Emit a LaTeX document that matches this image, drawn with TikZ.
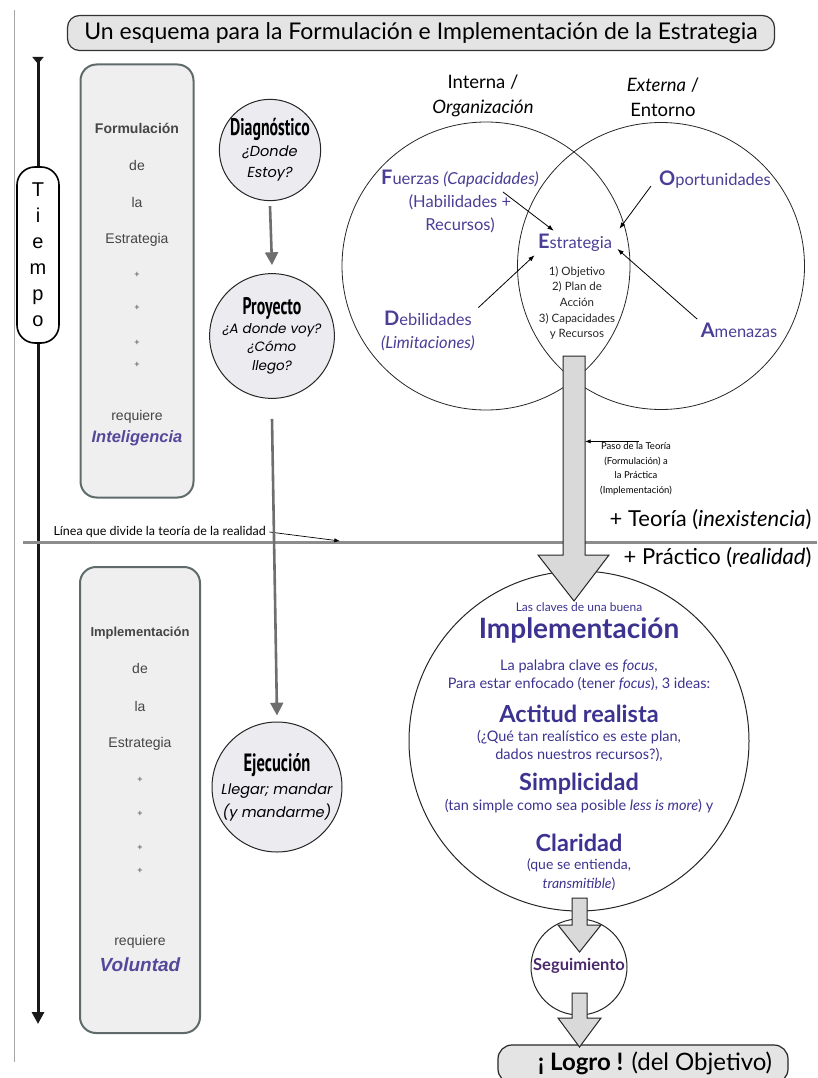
\documentclass[tikz,border=0pt]{standalone}
\usepackage{fontspec}
\setmainfont{Lato}
\newfontfamily\arialfont{Liberation Sans}
\newfontfamily\futfont{Poppins}
\newfontfamily\condfont[FakeStretch=0.66]{PT Sans}
\usepackage{xcolor}
\usetikzlibrary{arrows.meta,positioning,shapes.geometric,calc}
\definecolor{titlefill}{HTML}{E4E4E4}
\definecolor{boxfill}{HTML}{EFEFEF}
\definecolor{boxline}{HTML}{5F6B6B}
\definecolor{boxtext}{HTML}{454545}
\definecolor{stagefill}{HTML}{EBEBF0}
\definecolor{swotpurple}{HTML}{4A3E96}
\definecolor{implpurple}{HTML}{3C3390}
\definecolor{segpurple}{HTML}{4B2A6B}
\definecolor{reqpurple}{HTML}{55489A}
\definecolor{flowgray}{HTML}{6E6E6E}
\definecolor{blockfill}{HTML}{D9D9D9}

\begin{document}
\begin{tikzpicture}[x=1pt,y=-1pt,
  title/.style={rectangle,draw=black!80,line width=1.2pt,rounded corners=12pt,fill=titlefill,minimum width=707pt,minimum height=35pt,font=\fontsize{23}{26}\selectfont},
  phase/.style={rectangle,draw=boxline,line width=2pt,rounded corners=16pt,fill=boxfill},
  boxtxt/.style={font=\arialfont\fontsize{14}{16}\selectfont,text=boxtext},
  plus/.style={font=\arialfont\fontsize{9}{10}\selectfont,text=boxtext},
  stage/.style={circle,draw=black!85,line width=1pt,fill=stagefill,align=center,inner sep=0pt},
  venn/.style={circle,draw=black!85,line width=0.8pt,inner sep=0pt},
  swot/.style={font=\fontsize{16.5}{23}\selectfont,text=swotpurple,align=center},
  impl/.style={text=implpurple,font=\fontsize{14.5}{18}\selectfont},
  implhead/.style={text=implpurple,font=\bfseries\fontsize{23.5}{25}\selectfont},
  edge/.style={-{Latex[length=2.2mm]},line width=0.8pt},
  flow/.style={-{Triangle[length=4.5mm,width=4.5mm]},line width=2.6pt,draw=flowgray},
  block/.style={fill=blockfill,draw=black!85,line width=1pt,line join=miter}]
\useasboundingbox (0,0) rectangle (817,1078);
\draw[gray!70,line width=0.6pt] (14,10) -- (14,1062);

\node[title] (title) at (421,33) {Un esquema para la Formulación e Implementación de la Estrategia};

% eje del tiempo
\coordinate (tstart) at (38,57);
\coordinate (tend) at (38,1024);
\draw[line width=3pt,black!90,{Triangle[reversed,length=7pt,width=11pt]}-{Triangle[length=12pt,width=12pt]}] (tstart) -- (tend);
\node[rectangle,draw=black,line width=1.6pt,rounded corners=18pt,fill=white,minimum width=42pt,minimum height=176pt,align=center,
  font=\arialfont\fontsize{20}{26}\selectfont] (tiempo) at (38,255) {T\\i\\e\\m\\p\\o};

% columnas de la izquierda
\node[phase,minimum width=113pt,minimum height=433pt] (formbox) at (137,281) {};
\node[boxtxt,font=\arialfont\bfseries\fontsize{14}{16}\selectfont] (fhead) at (137,128) {Formulación};
\node[boxtxt] (fde) at (137,165) {de};
\node[boxtxt] (fla) at (137,202) {la};
\node[boxtxt] (fest) at (137,240) {Estrategia};
\foreach \y [count=\i] in {275,308,343,365}
  \node[plus] (fplus\i) at (137,\y) {+};
\node[boxtxt] (freq) at (137,417) {requiere};
\node[boxtxt,text=reqpurple,font=\arialfont\bfseries\itshape\fontsize{16.5}{18}\selectfont] (fint) at (137,438) {Inteligencia};

\node[phase,minimum width=120pt,minimum height=466pt] (implbox) at (140,800) {};
\node[boxtxt,font=\arialfont\bfseries\fontsize{13}{15}\selectfont] (ihead) at (140,633) {Implementación};
\node[boxtxt] (ide) at (140,668) {de};
\node[boxtxt] (ila) at (140,706) {la};
\node[boxtxt] (iest) at (140,744) {Estrategia};
\foreach \y [count=\i] in {780,814,848,871}
  \node[plus] (iplus\i) at (140,\y) {+};
\node[boxtxt] (ireq) at (140,942) {requiere};
\node[boxtxt,text=reqpurple,font=\arialfont\bfseries\itshape\fontsize{19}{21}\selectfont] (ivol) at (140,965) {Voluntad};

% linea teoria / realidad
\coordinate (divL) at (23,542);
\coordinate (divR) at (817,542);
\draw[line width=3pt,gray!90] (divL) -- (divR);
\node[anchor=west,font=\fontsize{12.5}{14}\selectfont] (linea) at (50,532) {Línea que divide la teoría de la realidad};
\coordinate (divpoint) at (340,541);
\draw[-{Latex[length=2mm]},line width=0.7pt] (linea.east) -- (divpoint);

% etapas
\node[stage,minimum size=100pt,font=\futfont\itshape\fontsize{14.5}{21}\selectfont] (diag) at (270,150)
  {\condfont\bfseries\upshape\fontsize{24}{25}\selectfont Diagnóstico\\¿Donde\\Estoy?};
\node[stage,minimum size=106pt,font=\futfont\itshape\fontsize{13.5}{18.5}\selectfont] (proy) at (272,336)
  {\condfont\bfseries\upshape\fontsize{24}{26}\selectfont Proyecto\\¿A donde voy?\\¿Cómo\\llego?};
\node[stage,minimum size=130pt,font=\futfont\itshape\fontsize{14.5}{23}\selectfont] (ejec) at (277,787)
  {\condfont\bfseries\upshape\fontsize{25}{27}\selectfont Ejecución\\Llegar; mandar\\(y mandarme)};
\draw[flow] ([yshift=-5pt]diag.south) -- ([yshift=8pt]proy.north);
\draw[flow] ([yshift=-20pt]proy.south) -- ([yshift=6pt]ejec.north);

% diagrama de Venn
\node[venn,minimum size=288pt] (interna) at (486,266) {};
\node[venn,minimum size=287pt] (externa) at (661,266) {};
\node[align=center,font=\fontsize{18.5}{25}\selectfont] (intlabel) at (483,96) {Interna /\\\textit{Organización}};
\node[align=center,font=\fontsize{18.5}{25}\selectfont] (extlabel) at (663,97) {\textit{Externa} /\\Entorno};

\node[swot] (fuerzas) at (460,201) {{\bfseries\fontsize{20}{23}\selectfont F}uerzas \textit{(Capacidades)}\\(Habilidades +\\Recursos)};
\node[swot] (oport) at (715,180) {{\bfseries\fontsize{20}{23}\selectfont O}portunidades};
\node[swot] (debil) at (428,331) {{\bfseries\fontsize{20}{23}\selectfont D}ebilidades\\\textit{(Limitaciones)}};
\node[swot] (amen) at (739,330) {{\bfseries\fontsize{20}{23}\selectfont A}menazas};
\node[swot] (estr) at (575,243) {{\bfseries\fontsize{20}{23}\selectfont E}strategia};
\node[align=center,text=black!85,font=\fontsize{11.5}{15.7}\selectfont] (estlist) at (577,303)
  {1) Objetivo\\2) Plan de\\Acción\\3) Capacidades\\y Recursos};

\coordinate (fpt) at (503,192);
\coordinate (opt) at (651,186);
\draw[edge] (fpt) -- (estr.150);
\draw[edge] (opt) -- ([xshift=4pt,yshift=2pt]estr.north east);
\draw[edge] (debil.north east) -- (estr.south west);
\draw[edge] (amen.north west) -- ([xshift=2pt,yshift=-6pt]estr.east);

% implementacion
\node[venn,minimum size=340pt,line width=1pt] (implcirc) at (579,741) {};
\node[circle,draw=black!85,line width=1pt,minimum size=96pt] (segcirc) at (579,967) {};
\node[rectangle,draw=black!85,line width=1.2pt,rounded corners=14pt,fill=titlefill,minimum width=290pt,minimum height=38pt] (logro) at (643,1064) {};

% flechas de bloque
\draw[block] (563,356) -- (585,356) -- (585,555) -- (609,555) -- (574,601) -- (538,555) -- (563,555) -- cycle;
\draw[block] (572,898) -- (587,898) -- (587,925) -- (601,925) -- (579.5,952) -- (558,925) -- (572,925) -- cycle;
\draw[block] (572,993) -- (587,993) -- (587,1018) -- (601,1018) -- (579.5,1047) -- (558,1018) -- (572,1018) -- cycle;
\coordinate (shaftR) at (585,438);

\node[align=center,font=\fontsize{9.5}{14.5}\selectfont] (paso) at (636,469) {Paso de la Teoría\\(Formulación) a\\la Práctica\\(Implementación)};
\draw[-{Latex[length=2mm]},line width=0.7pt] ([xshift=3pt,yshift=-2pt]paso.north) -- ([yshift=-2pt]paso.north -| shaftR);

\node[anchor=east,font=\fontsize{22}{24}\selectfont] (teoria) at (815,520) {+ Teoría (\textit{inexistencia})};
\node[anchor=east,font=\fontsize{22}{24}\selectfont] (practico) at (815,558) {+ Práctico (\textit{realidad})};

\node[impl,font=\fontsize{12}{14}\selectfont] (claves) at (579,607) {Las claves de una buena};
\node[impl,font=\bfseries\fontsize{28}{30}\selectfont] (implhd) at (579,630) {Implementación};
\node[impl,align=center] (focus) at (579,675) {La palabra clave es \textit{focus},\\Para estar enfocado (tener \textit{focus}), 3 ideas:};
\node[implhead] (actitud) at (579,714) {Actitud realista};
\node[impl,align=center] (actitudtx) at (579,746) {(¿Qué tan realístico es este plan,\\dados nuestros recursos?),};
\node[implhead] (simpl) at (579,784) {Simplicidad};
\node[impl] (simpltx) at (579,806) {(tan simple como sea posible \textit{less is more}) y};
\node[implhead] (clar) at (579,843) {Claridad};
\node[impl,align=center,font=\fontsize{14}{19}\selectfont] (clartx) at (579,875) {(que se entienda,\\\textit{transmitible})};

\node[text=segpurple,font=\bfseries\fontsize{16.5}{18}\selectfont] (seg) at (579,966) {Seguimiento};
\node[font=\fontsize{24}{26}\selectfont] (logrotx) at (655,1063) {{\bfseries ¡ Logro !} (del Objetivo)};
\end{tikzpicture}
\end{document}
